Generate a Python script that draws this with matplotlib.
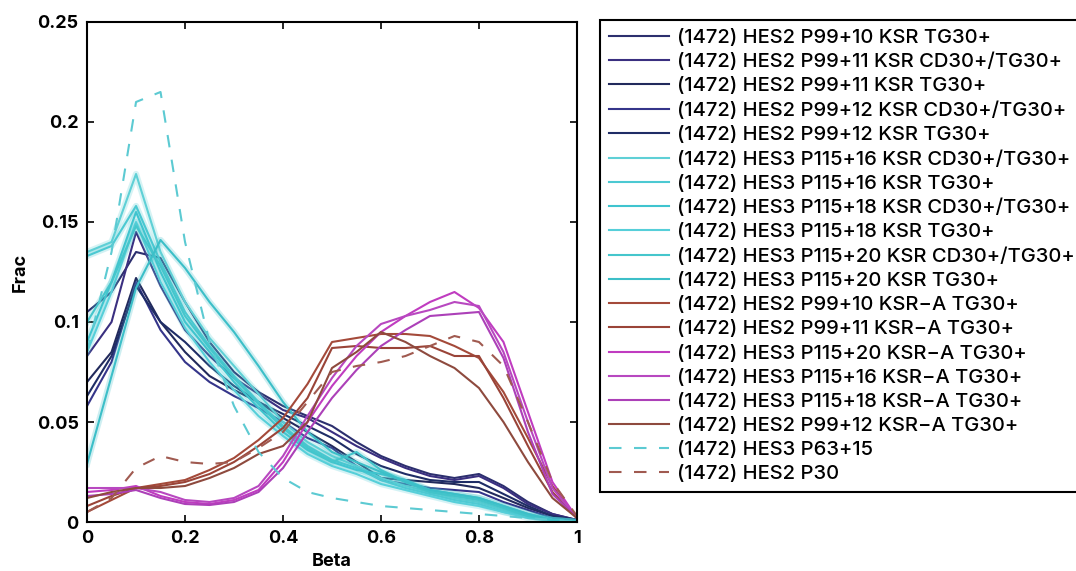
import numpy as np
import matplotlib
matplotlib.use("Agg")
import matplotlib.pyplot as plt
import matplotlib.patheffects as pe

plt.rcParams['font.family'] = ['Inter', 'Liberation Sans', 'DejaVu Sans']

# ------------------------------------------------------------
# data
# ------------------------------------------------------------
beta = [0.0, 0.05, 0.1, 0.15, 0.2, 0.25, 0.3, 0.35, 0.4, 0.45, 0.5,
        0.55, 0.6, 0.65, 0.7, 0.75, 0.8, 0.85, 0.9, 0.95, 1.0]

# HES2 KSR (navy)
hes2_p99_10_tg = [0.105, 0.115, 0.135, 0.132, 0.110, 0.090, 0.075, 0.065, 0.058, 0.053, 0.048,
                  0.040, 0.033, 0.028, 0.024, 0.022, 0.024, 0.018, 0.010, 0.004, 0.001]
hes2_p99_11_cd = [0.083, 0.100, 0.145, 0.118, 0.096, 0.083, 0.072, 0.064, 0.056, 0.052, 0.045,
                  0.038, 0.032, 0.027, 0.023, 0.021, 0.023, 0.017, 0.009, 0.004, 0.001]
hes2_p99_11_tg = [0.070, 0.085, 0.122, 0.100, 0.085, 0.073, 0.066, 0.060, 0.052, 0.045, 0.038,
                  0.030, 0.022, 0.021, 0.020, 0.019, 0.017, 0.012, 0.007, 0.003, 0.001]
hes2_p99_12_cd = [0.058, 0.080, 0.120, 0.096, 0.080, 0.070, 0.063, 0.057, 0.050, 0.042, 0.037,
                  0.028, 0.021, 0.019, 0.017, 0.016, 0.015, 0.010, 0.006, 0.002, 0.001]
hes2_p99_12_tg = [0.063, 0.083, 0.118, 0.100, 0.090, 0.078, 0.068, 0.060, 0.054, 0.048, 0.042,
                  0.034, 0.028, 0.024, 0.021, 0.020, 0.020, 0.014, 0.008, 0.003, 0.001]

# HES3 KSR (cyan)
hes3_p115_16_cd = [0.135, 0.140, 0.174, 0.135, 0.110, 0.092, 0.078, 0.064, 0.050, 0.040, 0.033,
                   0.028, 0.022, 0.018, 0.015, 0.012, 0.010, 0.006, 0.003, 0.001, 0.000]
hes3_p115_16_tg = [0.133, 0.138, 0.158, 0.130, 0.105, 0.088, 0.073, 0.060, 0.048, 0.038, 0.031,
                   0.027, 0.021, 0.017, 0.014, 0.011, 0.009, 0.005, 0.003, 0.001, 0.000]
hes3_p115_18_cd = [0.090, 0.120, 0.155, 0.125, 0.100, 0.085, 0.070, 0.057, 0.045, 0.036, 0.030,
                   0.026, 0.024, 0.021, 0.016, 0.014, 0.012, 0.008, 0.004, 0.001, 0.000]
hes3_p115_18_tg = [0.085, 0.115, 0.150, 0.120, 0.097, 0.080, 0.066, 0.053, 0.043, 0.034, 0.028,
                   0.024, 0.019, 0.016, 0.013, 0.010, 0.008, 0.005, 0.002, 0.001, 0.000]
hes3_p115_20_cd = [0.100, 0.120, 0.148, 0.128, 0.103, 0.087, 0.072, 0.059, 0.047, 0.037, 0.030,
                   0.035, 0.026, 0.020, 0.015, 0.013, 0.011, 0.007, 0.003, 0.001, 0.000]
hes3_p115_20_tg = [0.029, 0.073, 0.117, 0.141, 0.127, 0.110, 0.095, 0.078, 0.060, 0.045, 0.035,
                   0.030, 0.025, 0.020, 0.016, 0.014, 0.012, 0.008, 0.004, 0.001, 0.000]

# HES2 KSR-A (brown)
hes2_p99_10_a = [0.005, 0.011, 0.017, 0.019, 0.021, 0.026, 0.032, 0.041, 0.052, 0.069, 0.090,
                 0.092, 0.094, 0.094, 0.093, 0.088, 0.082, 0.065, 0.042, 0.018, 0.002]
hes2_p99_11_a = [0.008, 0.013, 0.017, 0.018, 0.020, 0.024, 0.030, 0.038, 0.047, 0.062, 0.087,
                 0.088, 0.087, 0.087, 0.088, 0.083, 0.083, 0.062, 0.038, 0.015, 0.002]
hes2_p99_12_a = [0.012, 0.015, 0.017, 0.017, 0.018, 0.022, 0.027, 0.034, 0.038, 0.050, 0.077,
                 0.085, 0.095, 0.090, 0.083, 0.077, 0.067, 0.050, 0.030, 0.012, 0.002]

# HES3 KSR-A (magenta)
hes3_p115_20_a = [0.015, 0.016, 0.018, 0.013, 0.010, 0.009, 0.011, 0.016, 0.030, 0.050, 0.068,
                  0.083, 0.095, 0.103, 0.110, 0.115, 0.107, 0.090, 0.055, 0.020, 0.002]
hes3_p115_16_a = [0.017, 0.017, 0.017, 0.015, 0.011, 0.010, 0.012, 0.018, 0.033, 0.053, 0.072,
                  0.088, 0.099, 0.103, 0.106, 0.110, 0.108, 0.085, 0.050, 0.017, 0.002]
hes3_p115_18_a = [0.013, 0.014, 0.016, 0.012, 0.009, 0.0085, 0.010, 0.015, 0.027, 0.045, 0.062,
                  0.076, 0.088, 0.096, 0.103, 0.104, 0.105, 0.082, 0.045, 0.014, 0.002]

# references (dashed)
hes3_p63_15 = [0.085, 0.135, 0.210, 0.215, 0.140, 0.090, 0.058, 0.035, 0.022, 0.015, 0.012,
               0.010, 0.008, 0.007, 0.006, 0.005, 0.004, 0.003, 0.002, 0.001, 0.000]
hes2_p30 = [0.005, 0.012, 0.027, 0.033, 0.030, 0.029, 0.030, 0.037, 0.045, 0.060, 0.075,
            0.078, 0.080, 0.083, 0.088, 0.093, 0.090, 0.078, 0.050, 0.020, 0.003]

NAVY = ['#2c2f6e', '#3a2f80', '#222a5c', '#35358a', '#1f2d66']
CYAN = ['#5fd0d6', '#4cc9d2', '#3fc4cf', '#56cfd9', '#45c6cc', '#3cbfc8']
BROWN = ['#a44a3a', '#9a4438', '#8e4a3e']
MAGENTA = ['#c03cc0', '#b848c0', '#ac40b8']

series = [
    (hes2_p99_10_tg, '(1472) HES2 P99+10 KSR TG30+', NAVY[0], '-'),
    (hes2_p99_11_cd, '(1472) HES2 P99+11 KSR CD30+/TG30+', NAVY[1], '-'),
    (hes2_p99_11_tg, '(1472) HES2 P99+11 KSR TG30+', NAVY[2], '-'),
    (hes2_p99_12_cd, '(1472) HES2 P99+12 KSR CD30+/TG30+', NAVY[3], '-'),
    (hes2_p99_12_tg, '(1472) HES2 P99+12 KSR TG30+', NAVY[4], '-'),
    (hes3_p115_16_cd, '(1472) HES3 P115+16 KSR CD30+/TG30+', CYAN[0], '-'),
    (hes3_p115_16_tg, '(1472) HES3 P115+16 KSR TG30+', CYAN[1], '-'),
    (hes3_p115_18_cd, '(1472) HES3 P115+18 KSR CD30+/TG30+', CYAN[2], '-'),
    (hes3_p115_18_tg, '(1472) HES3 P115+18 KSR TG30+', CYAN[3], '-'),
    (hes3_p115_20_cd, '(1472) HES3 P115+20 KSR CD30+/TG30+', CYAN[4], '-'),
    (hes3_p115_20_tg, '(1472) HES3 P115+20 KSR TG30+', CYAN[5], '-'),
    (hes2_p99_10_a, '(1472) HES2 P99+10 KSR\u2212A TG30+', BROWN[0], '-'),
    (hes2_p99_11_a, '(1472) HES2 P99+11 KSR\u2212A TG30+', BROWN[1], '-'),
    (hes3_p115_20_a, '(1472) HES3 P115+20 KSR\u2212A TG30+', MAGENTA[0], '-'),
    (hes3_p115_16_a, '(1472) HES3 P115+16 KSR\u2212A TG30+', MAGENTA[1], '-'),
    (hes3_p115_18_a, '(1472) HES3 P115+18 KSR\u2212A TG30+', MAGENTA[2], '-'),
    (hes2_p99_12_a, '(1472) HES2 P99+12 KSR\u2212A TG30+', BROWN[2], '-'),
    (hes3_p63_15, '(1472) HES3 P63+15', '#5ccad2', '--'),
    (hes2_p30, '(1472) HES2 P30', '#a05a50', '--'),
]

fig = plt.figure(figsize=(10.76, 5.71), dpi=100)
ax = fig.add_axes([0.0809, 0.0858, 0.4553, 0.8757])

for vals, label, color, ls in series:
    glow = [pe.Stroke(linewidth=4.5, foreground=color, alpha=0.25), pe.Normal()]
    ax.plot(beta, vals, color=color, linestyle=ls, linewidth=1.5, label=label,
            dashes=(6, 6) if ls == '--' else (None, None),
            path_effects=glow if color in CYAN else None)

ax.set_xlim(0, 1)
ax.set_ylim(0, 0.25)
ax.set_xticks([0, 0.2, 0.4, 0.6, 0.8, 1])
ax.set_xticklabels(['0', '0.2', '0.4', '0.6', '0.8', '1'])
ax.set_yticks([0, 0.05, 0.1, 0.15, 0.2, 0.25])
ax.set_yticklabels(['0', '0.05', '0.1', '0.15', '0.2', '0.25'])
ax.tick_params(direction='in', length=5, width=1.2, top=True, right=True,
               labelsize=13, pad=6)
for lbl in ax.get_xticklabels() + ax.get_yticklabels():
    lbl.set_fontweight('bold')
for sp in ax.spines.values():
    sp.set_linewidth(1.5)
ax.set_xlabel('Beta', fontsize=13, fontweight='bold', labelpad=4)
ax.set_ylabel('Frac', fontsize=13, fontweight='bold', labelpad=6)

# legend runs off the right edge of the figure, as in the original
leg = fig.legend(loc='upper left', bbox_to_anchor=(600 / 1076, 1 - 20 / 571),
                 borderaxespad=0, handlelength=3.0, handletextpad=0.4,
                 labelspacing=0.3, borderpad=0.43, fancybox=False, framealpha=1,
                 prop={'size': 14.5, 'weight': 'medium'})
leg.get_frame().set_edgecolor('black')
leg.get_frame().set_linewidth(1.5)
for h in leg.get_lines():
    h.set_path_effects([])

fig.savefig('out.png', dpi=100)
